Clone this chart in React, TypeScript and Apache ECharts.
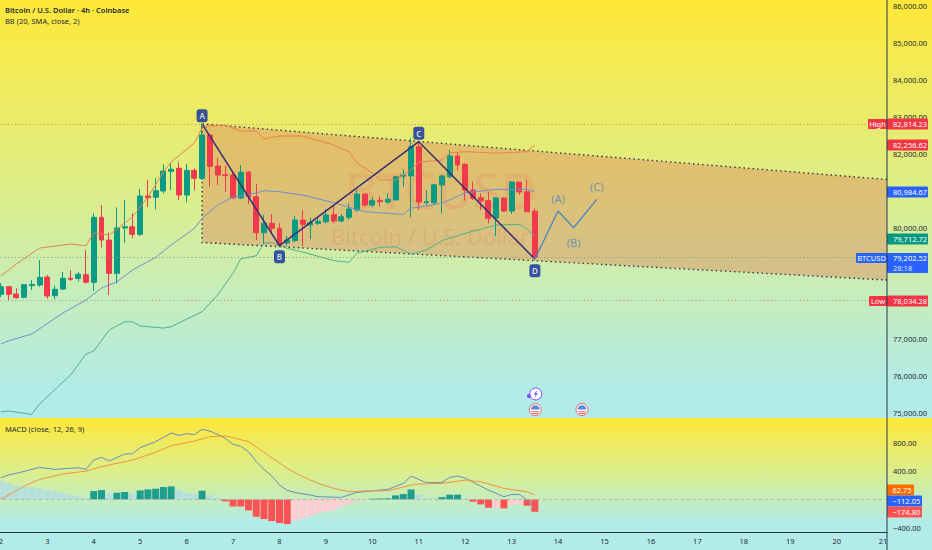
import React, { useEffect, useRef } from "react";
import * as echarts from "echarts";

const FONT = "'Noto Sans', sans-serif";
const DAY_TICKS = ["2","3","4","5","6","7","8","9","10","11","12","13","14","15","16","17","18","19","20","21"];
const BARS_PER_DAY = 6;
const BAR_COUNT = 115;

// [open, close, low, high]
const candles = [
[78207,78413,78134,78513],[78413,78207,78053,78431],[78215,78115,78088,78369],[78126,78467,78100,78467],[78445,78472,78323,78594],
[78458,78666,78413,79134],[78675,78161,78088,78729],[78169,78342,78080,78440],[78350,78639,78323,78818],[78639,78612,78566,78864],
[78639,78748,78558,78818],[78737,78532,78505,79405],[78532,80288,78304,80396],[80288,79675,79467,80621],[79675,78775,78188,79883],
[78775,80000,78505,80559],[80000,80034,79602,80756],[80034,79829,79721,80396],[79829,80864,79783,81053],[80864,80818,80567,81297],
[80829,81007,80505,81343],[80999,81540,80937,81721],[81532,81586,81026,81748],[81613,80891,80756,81775],[80891,81559,80694,81729],
[81559,81343,81026,81613],[81343,82513,81297,82814],[82513,81667,81116,82540],[81675,81432,81161,81899],[81440,81413,80980,81683],
[81432,80810,80802,81494],[80810,81505,80783,81702],[81513,80845,80648,81540],[80845,79872,79675,81188],[79872,80126,79567,80351],
[80126,79991,79856,80378],[79991,79540,79521,80126],[79594,79675,79521,79783],[79656,80215,79629,80323],[80215,80099,79513,80486],
[80080,80142,79702,80278],[80126,80180,80080,80288],[80169,80351,80126,80513],[80359,80188,80126,80621],[80188,80305,80153,80378],
[80288,80513,80215,80667],[80486,80918,80440,81026],[80918,80621,80575,80937],[80621,80737,80559,80829],[80748,80710,80575,80864],
[80702,80775,80640,80937],[80756,81386,80756,81405],[81397,81432,81116,81586],[81405,82197,80288,82424],[82197,80702,80486,82332],
[80683,80710,80621,81026],[80683,81170,80621,81188],[81161,81405,80396,81432],[81386,81945,81343,82108],[81945,81702,81567,82045],
[81721,81026,80737,81748],[81026,80802,80756,81251],[80818,80729,80486,80937],[80737,80261,80126,80980],[80269,80810,79783,80829],
[80810,80459,80432,80829],[80459,81243,80378,81261],[81243,80972,80891,81251],[80980,80440,80432,81297],[80451,79202,79134,80532],
];

// Bollinger bands: [bar, price] at the line's bends
const bbUpper = [[0,78702],[2,79026],[5,79459],[9,79567],[11,79521],[12,79864],[14,79810],[17,80296],[19,80837],[21,81513],[22,81783],[25,82297],[26,82702],[27,82756],[29,82783],[31,82621],[33,82621],[34,82405],[36,82486],[39,82486],[43,82243],[45,82061],[46,81756],[48,81486],[49,81297],[51,81297],[53,81567],[54,81783],[57,81837],[58,82034],[60,82061],[64,82026],[68,82061],[69,82243]];
const bbMiddle = [[0,76864],[1,76953],[4,77134],[8,77702],[11,78053],[13,78377],[15,78548],[17,78864],[20,79207],[22,79540],[25,79991],[26,80261],[28,80621],[30,80837],[33,80945],[34,81007],[36,80980],[39,80891],[43,80683],[47,80440],[52,80369],[53,80540],[54,80559],[57,80667],[60,80953],[64,81045],[68,81045],[69,80980]];
const bbLower = [[0,75034],[1,75053],[4,74963],[5,75245],[9,76026],[11,76593],[12,76674],[14,77242],[16,77466],[17,77466],[18,77350],[21,77296],[22,77331],[26,77737],[28,78188],[30,78775],[31,79169],[33,79250],[34,79594],[35,79602],[37,79450],[39,79350],[43,79121],[45,79072],[46,79315],[49,79477],[51,79494],[53,79296],[55,79405],[57,79661],[60,79856],[64,80080],[67,80099],[68,79972],[69,79783]];

const channelUpper = [[26,82814],[114.5,81310]];
const channelLower = [[26,79608],[114.5,78594]];
const zigzag = [[26,82814],[36,79521],[54,82332],[69,79161]];
const projection = [[69,79161],[72,80459],[74,80007],[77,80775]];
const badgeNames = ["A","B","C","D"];
const badgePoints = [[26,83035],[36,79224],[54,82559],[69,78845]];
const waveNames = ["(A)","(B)","(C)"];
const wavePoints = [[72,80802],[74,79621],[77,81116]];

const highPrice = 82814.23;
const lastPrice = 79202.52;
const lowPrice = 78034.28;

const priceTagValues = [highPrice, 82256.62, 80984.67, 79712.72, lastPrice, lowPrice];
const priceTagColors = ["#f23645","#f23645","#2962ff","#089981","#2962ff","#f23645"];
const priceTagSides = ["High","","","","BTCUSD","Low"];
const countdown = "28:18";

const macdHist = [264,226,198,179,170,155,132,108,85,57,38,19,118,132,85,94,104,85,127,141,151,174,184,132,94,75,122,61,24,-28,-99,-100,-155,-245,-278,-306,-334,-349,-300,-270,-235,-198,-174,-151,-104,-66,-24,-10,9,14,15,57,75,141,61,14,13,33,66,67,14,-33,-71,-118,-117,-127,-80,-71,-90,-174.8];
const macdLine = [[0,306],[1,344],[2,368],[5,452],[7,424],[10,447],[11,424],[12,555],[13,593],[14,541],[16,640],[17,645],[18,730],[20,815],[22,937],[23,904],[24,928],[25,914],[26,989],[27,965],[28,918],[29,862],[30,777],[31,749],[32,673],[33,532],[34,424],[35,330],[36,202],[37,127],[38,99],[40,60],[41,38],[44,28],[46,99],[50,141],[52,226],[53,330],[55,235],[57,240],[58,310],[59,330],[60,300],[63,132],[65,38],[66,70],[67,70],[68,-9],[69,-112.05]];
const signalLine = [[0,0],[3,188],[5,283],[8,358],[11,400],[13,462],[17,556],[20,664],[22,758],[25,824],[27,885],[29,895],[30,871],[32,815],[34,664],[37,438],[39,320],[41,226],[43,155],[45,108],[47,118],[50,122],[53,203],[54,217],[57,226],[60,273],[62,250],[65,155],[68,108],[69,62.75]];
const macdTagValues = [62.75,-112.05,-174.8];
const macdTagColors = ["#ff6d00","#2962ff","#ff5252"];
const macdTagShifts = [-5,-6,0];

const categories = Array.from({ length: BAR_COUNT }, (_, i) =>
  i % BARS_PER_DAY === 0 ? DAY_TICKS[i / BARS_PER_DAY] ?? "" : ""
);
const fmt = (v: number) =>
  (v < 0 ? "\u2212" : "") +
  Math.abs(v).toLocaleString("en-US", { minimumFractionDigits: 2, maximumFractionDigits: 2 });

const TEXT = "#232a35";
const SIZE = 7.5;
const AXIS_X = 887;

const label = (text: string, x: number, y: number, fontWeight = 400) => ({
  type: "text", x, y, z: 50, silent: true,
  style: { text, fill: TEXT, fontSize: SIZE, fontFamily: FONT, fontWeight, verticalAlign: "middle", align: "left" },
});

const flag = (cx: number, cy: number) => ({
  type: "group", x: cx, y: cy, z: 40, silent: true,
  children: [
    { type: "circle", z: 40, shape: { cx: 0, cy: 0, r: 6 }, style: { fill: "#ffffff", stroke: "#e8626a", lineWidth: 1 } },
    { type: "sector", z: 41, shape: { cx: 0, cy: 0, r: 4.4, r0: 0, startAngle: Math.PI, endAngle: Math.PI * 2 }, style: { fill: "#4f8fd8" } },
    { type: "rect", z: 41, shape: { x: -4, y: 1.6, width: 8, height: 1 }, style: { fill: "#e8626a" } },
    { type: "rect", z: 41, shape: { x: -3, y: 3.4, width: 6, height: 1 }, style: { fill: "#e8626a" } },
  ],
});

function priceTagItem(params: any, api: any) {
  const i = api.value(2);
  const p = api.coord([114.5, api.value(1)]);
  const y = Math.round(p[1]);
  const value = priceTagValues[i];
  const color = priceTagColors[i];
  const side = priceTagSides[i];
  const isLast = value === lastPrice;
  const children: any[] = [];
  const h = 11;
  if (isLast) {
    children.push({ type: "rect", shape: { x: AXIS_X, y: y - 5, width: 41, height: 20, r: 1 }, style: { fill: color } });
    children.push({ type: "text", style: { x: AXIS_X + 6, y: y + 9.5, text: countdown, fill: "#dfe6ff", fontSize: SIZE, fontFamily: FONT, verticalAlign: "middle" } });
  } else {
    children.push({ type: "rect", shape: { x: AXIS_X, y: y - h / 2, width: 41, height: h, r: 1 }, style: { fill: color } });
  }
  children.push({ type: "text", style: { x: AXIS_X + 6, y, text: fmt(value), fill: "#ffffff", fontSize: SIZE, fontFamily: FONT, verticalAlign: "middle" } });
  if (side) {
    const w = side === "BTCUSD" ? 31 : side === "High" ? 19 : 18;
    children.push({ type: "rect", shape: { x: AXIS_X - w, y: y - 5, width: w, height: isLast ? 10 : h - 1, r: 1 }, style: { fill: color } });
    children.push({ type: "text", style: { x: AXIS_X - w / 2, y, text: side, fill: "#ffffff", fontSize: SIZE, fontFamily: FONT, align: "center", verticalAlign: "middle" } });
  }
  return { type: "group", children };
}

function macdTagItem(params: any, api: any) {
  const i = api.value(2);
  const p = api.coord([0, api.value(1)]);
  const y = Math.round(p[1]) + macdTagShifts[i];
  const text = fmt(macdTagValues[i]);
  const w = i === 0 ? 27 : 35;
  return {
    type: "group",
    children: [
      { type: "rect", shape: { x: AXIS_X, y: y - 5.5, width: w, height: 11, r: 1 }, style: { fill: macdTagColors[i] } },
      { type: "text", style: { x: AXIS_X + 5.5, y, text, fill: "#ffffff", fontSize: SIZE, fontFamily: FONT, verticalAlign: "middle" } },
    ],
  };
}

function channelItem(params: any, api: any) {
  const pts = [channelUpper[0], channelUpper[1], channelLower[1], channelLower[0]].map((d) => api.coord(d));
  const dotted = { stroke: "#27314f", lineWidth: 1.4, lineDash: [1.4, 3.2], fill: "none" };
  return {
    type: "group",
    children: [
      { type: "polygon", shape: { points: pts }, style: { fill: "rgba(222,140,92,0.46)" } },
      { type: "polyline", shape: { points: [pts[1], pts[0], pts[3], pts[2]] }, style: dotted },
    ],
  };
}

export default function App() {
  const ref = useRef<HTMLDivElement>(null);

  useEffect(() => {
    document.body.style.margin = "0";
    const chart = echarts.init(ref.current!, undefined, { renderer: "svg" });
    const onMain = { xAxisIndex: 1, yAxisIndex: 0 };
    const line = (data: any[], color: string, width = 1, extra: any = {}) => ({
      type: "line", ...onMain, data, symbol: "none", silent: true, z: 3,
      lineStyle: { color, width }, ...extra,
    });
    const dotted = (v: number, color: string) => ({
      yAxis: v, lineStyle: { color, type: [1.2, 2.4], width: 0.9 },
    });
    chart.setOption({
      animation: false,
      backgroundColor: "#b2ebe8",
      graphic: [{
        elements: [
          { type: "rect", z: -10, silent: true, shape: { x: 0, y: 0, width: 932, height: 418 },
            style: { fill: { type: "linear", x: 0, y: 0, x2: 0, y2: 1, colorStops: [
              { offset: 0, color: "#ffe838" }, { offset: 0.5, color: "#d9ee92" }, { offset: 0.93, color: "#b2ebe8" }, { offset: 1, color: "#b2ebe8" },
            ] } } },
          { type: "rect", z: -10, silent: true, shape: { x: 0, y: 418, width: 932, height: 114 },
            style: { fill: { type: "linear", x: 0, y: 0, x2: 0, y2: 1, colorStops: [
              { offset: 0, color: "#ffe838" }, { offset: 0.5, color: "#d9ee92" }, { offset: 0.92, color: "#b2ebe8" }, { offset: 1, color: "#b2ebe8" },
            ] } } },
          { type: "text", x: 441, y: 190, z: 1, silent: true,
            style: { text: "BTCUSD", fill: "rgba(236,80,90,0.17)", fontSize: 50, fontFamily: FONT, fontWeight: 500, align: "center", verticalAlign: "middle" } },
          { type: "text", x: 430, y: 236, z: 1, silent: true,
            style: { text: "Bitcoin / U.S. Dollar", fill: "rgba(236,80,90,0.2)", fontSize: 22, fontFamily: FONT, align: "center", verticalAlign: "middle" } },
          { type: "line", z: 30, silent: true, shape: { x1: AXIS_X, y1: 0, x2: AXIS_X, y2: 550 }, style: { stroke: "#24384a", lineWidth: 1 } },
          label("Bitcoin / U.S. Dollar \u00b7 4h \u00b7 Coinbase", 5, 10, 600),
          label("BB (20, SMA, close, 2)", 5, 21),
          label("MACD (close, 12, 26, 9)", 5, 429),
          { type: "group", x: 535.7, y: 394, z: 40, silent: true, children: [
            { type: "circle", z: 40, shape: { cx: 0, cy: 0, r: 6 }, style: { fill: "#ffffff", stroke: "#7c4dff", lineWidth: 1 } },
            { type: "polygon", z: 41, shape: { points: [[1.4, -3.8], [-2, 0.6], [-0.2, 0.6], [-1.2, 3.8], [2.2, -0.8], [0.4, -0.8]] }, style: { fill: "#7c4dff" } },
            { type: "circle", z: 41, shape: { cx: -6.8, cy: 2, r: 2 }, style: { fill: "#7c4dff" } },
          ] },
          flag(535.3, 409.6),
          flag(582, 409.6),
        ],
      }],
      grid: [
        { left: -3, top: 6, width: 890, height: 444, outerBoundsMode: "none" },
        { left: -3, top: 414.4, width: 890, height: 113.33, outerBoundsMode: "none" },
      ],
      xAxis: [
        { type: "category", gridIndex: 0, data: categories, show: false },
        { type: "value", gridIndex: 0, min: -0.5, max: 114.5, show: false },
        { type: "category", gridIndex: 1, data: categories, offset: 4.4,
          axisLine: { show: true, onZero: false, lineStyle: { color: "#24384a", width: 1 } },
          axisTick: { show: false }, splitLine: { show: false },
          axisLabel: { interval: 0, margin: 5, color: TEXT, fontSize: SIZE, fontFamily: FONT, hideOverlap: false } },
      ],
      yAxis: [
        { type: "value", gridIndex: 0, position: "right", min: 74000, max: 86000, interval: 1000,
          axisLine: { show: false }, axisTick: { show: false }, splitLine: { show: false },
          axisLabel: { margin: 6, color: TEXT, fontSize: SIZE, fontFamily: FONT,
            formatter: (v: number) => ([74000, 78000, 79000, 81000].includes(v) ? "" : fmt(v)) } },
        { type: "value", gridIndex: 1, position: "right", min: -400, max: 1200, interval: 400,
          axisLine: { show: false }, axisTick: { show: false }, splitLine: { show: false },
          axisLabel: { margin: 6, color: TEXT, fontSize: SIZE, fontFamily: FONT,
            formatter: (v: number) => ([0, 1200].includes(v) ? "" : fmt(v)) } },
      ],
      series: [
        { type: "custom", ...onMain, z: 1, silent: true, renderItem: channelItem, data: [[26, 82814]] },
        {
          type: "candlestick", xAxisIndex: 0, yAxisIndex: 0, data: candles, barWidth: 5.4, z: 2, silent: true,
          itemStyle: { color: "#0b9a84", color0: "#f23a4c", borderColor: "#0b9a84", borderColor0: "#f23a4c", borderWidth: 1 },
          markLine: { silent: true, symbol: "none", label: { show: false }, animation: false,
            data: [dotted(highPrice, "#e0884a"), dotted(lastPrice, "#8a9a88"), dotted(lowPrice, "#b9967a")] },
        },
        line(bbUpper, "#e8804e"),
        line(bbMiddle, "#6d90cc"),
        line(bbLower, "#4fb08c"),
        line(zigzag, "#3a2f72", 1.5, { z: 4 }),
        line(projection, "#4a86c2", 1.3, { z: 4 }),
        { type: "scatter", ...onMain, z: 5, silent: true, symbol: "roundRect", symbolSize: [11, 13],
          itemStyle: { color: "#0c2c9c" },
          data: badgePoints.map((value, i) => ({ value, name: badgeNames[i] })),
          label: { show: true, position: "inside", formatter: "{b}", color: "#ffffff", fontSize: 8, fontWeight: 600, fontFamily: FONT } },
        { type: "scatter", ...onMain, z: 5, silent: true, symbolSize: 0,
          data: wavePoints.map((value, i) => ({ value, name: waveNames[i] })),
          label: { show: true, position: "inside", formatter: "{b}", color: "#4f88c0", fontSize: 11, fontFamily: FONT } },
        { type: "custom", ...onMain, z: 20, silent: true, renderItem: priceTagItem,
          encode: { x: 0, y: 1 }, data: priceTagValues.map((v, i) => [114.5, v, i]) },
        {
          type: "bar", xAxisIndex: 2, yAxisIndex: 1, barWidth: 7, z: 2, silent: true,
          data: macdHist.map((v, i) => {
            const prev = i ? macdHist[i - 1] : Infinity;
            const color = v >= 0 ? (v > prev ? "#1f9e90" : "#b5dfdc") : (v < prev ? "#ff5252" : "#ffcdd2");
            return { value: v, itemStyle: { color } };
          }),
          markLine: { silent: true, symbol: "none", label: { show: false }, animation: false,
            data: [{ yAxis: 0, lineStyle: { color: "#a9b4ae", type: [3, 3], width: 1 } }] },
        },
        { type: "line", xAxisIndex: 2, yAxisIndex: 1, data: macdLine, symbol: "none", silent: true, z: 3, lineStyle: { color: "#6a8cc0", width: 1 } },
        { type: "line", xAxisIndex: 2, yAxisIndex: 1, data: signalLine, symbol: "none", silent: true, z: 3, lineStyle: { color: "#f0923c", width: 1 } },
        { type: "custom", xAxisIndex: 2, yAxisIndex: 1, z: 20, silent: true, renderItem: macdTagItem,
          encode: { x: 0, y: 1 }, data: macdTagValues.map((v, i) => [0, v, i]) },
      ],
    });
    return () => chart.dispose();
  }, []);

  return <div ref={ref} style={{ width: 932, height: 550 }} />;
}
